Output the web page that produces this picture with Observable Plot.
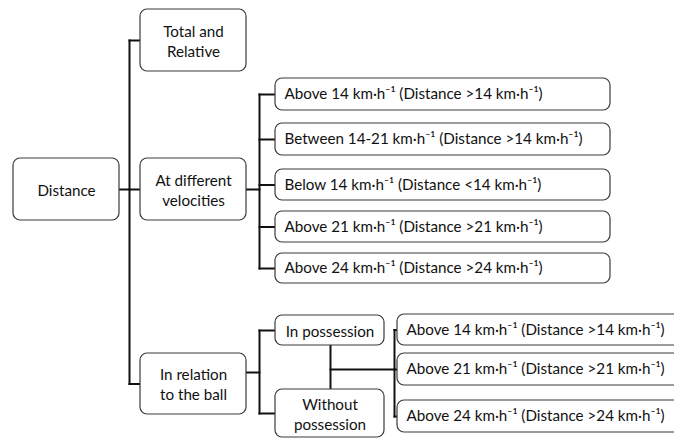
<!DOCTYPE html>
<html>
<head>
<meta charset="utf-8">
<script src="https://cdn.jsdelivr.net/npm/d3@7"></script>
<script src="https://cdn.jsdelivr.net/npm/@observablehq/plot@0.6"></script>
<style>
  html, body { margin: 0; padding: 0; background: #fff; overflow: hidden; }
</style>
</head>
<body>
<div id="chart"></div>
<script>
// ---- content (tree structure) ----
const rootLabel = "Distance";
const groupLabels = ["Total and\nRelative", "At different\nvelocities", "In relation\nto the ball"];
const velocityLabels = [
  "Above 14 km·h⁻¹ (Distance >14 km·h⁻¹)",
  "Between 14-21 km·h⁻¹ (Distance >14 km·h⁻¹)",
  "Below 14 km·h⁻¹ (Distance <14 km·h⁻¹)",
  "Above 21 km·h⁻¹ (Distance >21 km·h⁻¹)",
  "Above 24 km·h⁻¹ (Distance >24 km·h⁻¹)"
];
const possessionLabels = ["In possession", "Without\npossession"];
const possessionBandLabels = [
  "Above 14 km·h⁻¹ (Distance >14 km·h⁻¹)",
  "Above 21 km·h⁻¹ (Distance >21 km·h⁻¹)",
  "Above 24 km·h⁻¹ (Distance >24 km·h⁻¹)"
];

// ---- layout (diagram geometry, in pixels of the 674x439 canvas) ----
const columns = {
  root:   {x1: 13,  x2: 119, align: "middle"},
  group:  {x1: 140, x2: 246, align: "middle"},
  vel:    {x1: 275, x2: 610, align: "start"},
  poss:   {x1: 275, x2: 384, align: "middle"},
  band:   {x1: 397, x2: 690, align: "start"}
};
const rowsRoot = [[158, 220]];
const rowsGroup = [[9, 71], [158, 220], [353, 414]];
const rowsVel = [[78, 110], [123, 155], [169, 200], [211, 242], [253, 283]];
const rowsPoss = [[315, 345], [389, 437]];
const rowsBand = [[314, 345], [353, 385], [400, 432]];

function place(labels, col, rows, level) {
  return labels.map((label, i) => ({
    label, level,
    x1: columns[col].x1, x2: columns[col].x2,
    y1: rows[i][0], y2: rows[i][1],
    cy: (rows[i][0] + rows[i][1]) / 2,
    align: columns[col].align
  }));
}
const rootNode = place([rootLabel], "root", rowsRoot, 0);
const groupNodes = place(groupLabels, "group", rowsGroup, 1);
const velNodes = place(velocityLabels, "vel", rowsVel, 2);
const possNodes = place(possessionLabels, "poss", rowsPoss, 2);
const bandNodes = place(possessionBandLabels, "band", rowsBand, 3);
const nodes = [...rootNode, ...groupNodes, ...velNodes, ...possNodes, ...bandNodes];

// connectors: elbow brackets from parent to children
const segs = [];
function bracket(px, py, bx, children, cyOf = c => c.cy) {
  segs.push({x1: px, y1: py, x2: bx, y2: py});
  const ys = children.map(cyOf);
  segs.push({x1: bx, y1: Math.min(...ys, py), x2: bx, y2: Math.max(...ys, py)});
  children.forEach(c => segs.push({x1: bx, y1: cyOf(c), x2: c.x1, y2: cyOf(c)}));
}
bracket(rootNode[0].x2, rootNode[0].cy, 129, groupNodes);
bracket(groupNodes[1].x2, groupNodes[1].cy, 259, velNodes);
bracket(groupNodes[2].x2, 372, 259, possNodes);
// shared link between the two possession boxes to their speed bands
const midX = (possNodes[0].x1 + possNodes[0].x2) / 2 + 0.5;
segs.push({x1: midX, y1: possNodes[0].y2, x2: midX, y2: possNodes[1].y1});
bracket(midX, 369, 394, bandNodes);

const textNodes = nodes.map(d => ({
  ...d,
  tx: d.align === "start" ? d.x1 + 9 : (d.x1 + d.x2) / 2
}));

const FS = 15.2;
const chart = Plot.plot({
  width: 674,
  height: 439,
  margin: 0,
  x: {domain: [0, 674], range: [0, 674], axis: null},
  y: {domain: [0, 439], range: [0, 439], axis: null},
  style: {fontFamily: "Lato, 'Open Sans', sans-serif", background: "#fff"},
  marks: [
    Plot.link(segs, {x1: "x1", y1: "y1", x2: "x2", y2: "y2", stroke: "#111", strokeWidth: 2, strokeLinecap: "square"}),
    Plot.rect(nodes, {x1: "x1", x2: "x2", y1: "y1", y2: "y2", fill: "#fff", stroke: "#3a3a3a", strokeWidth: 1.2, rx: 7, clip: true}),
    Plot.text(textNodes.filter(d => d.align === "middle"), {x: "tx", y: "cy", text: "label", textAnchor: "middle", fontSize: FS, lineHeight: 1.32, fill: "#111"}),
    Plot.text(textNodes.filter(d => d.align === "start"), {x: "tx", y: "cy", text: "label", textAnchor: "start", fontSize: FS, fill: "#111", clip: true})
  ]
});
document.getElementById("chart").appendChild(chart);
</script>
</body>
</html>
